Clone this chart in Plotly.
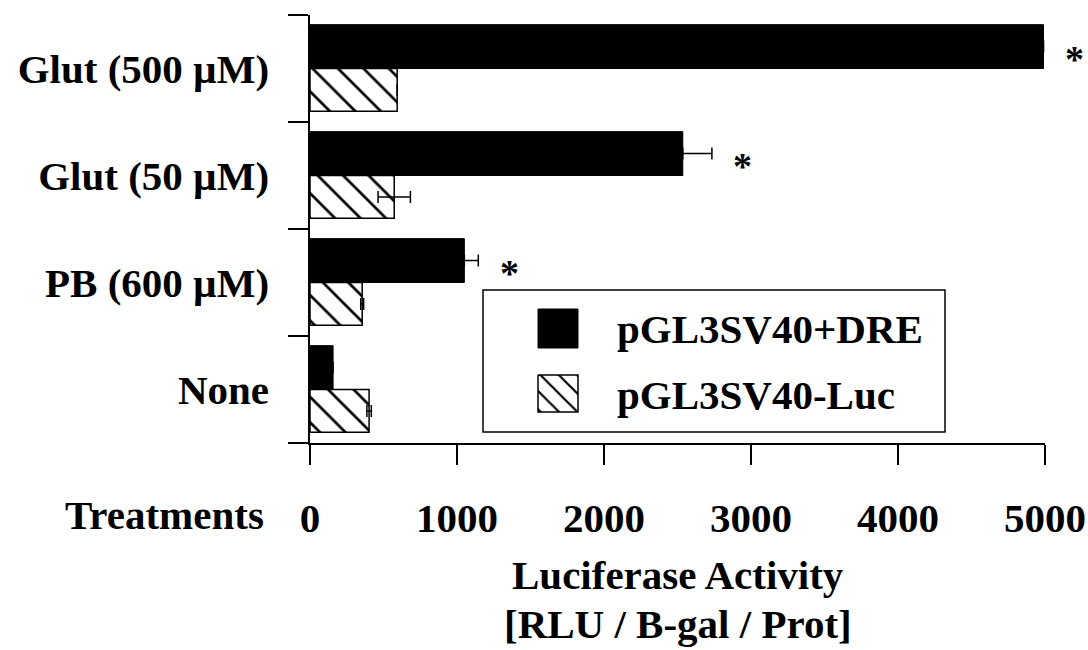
import plotly.graph_objects as go

# ---------------- data ----------------
treatments = ["None", "PB (600 µM)", "Glut (50 µM)", "Glut (500 µM)"]
dre_values = [157, 1050, 2536, 4990]
dre_err = [0, 95, 198, 0]
luc_values = [402, 355, 573, 593]
luc_err = [15, 10, 110, 0]
significant = [False, True, True, True]
x_ticks = [0, 1000, 2000, 3000, 4000, 5000]
series_names = ["pGL3SV40+DRE", "pGL3SV40-Luc"]
x_title_lines = ["Luciferase Activity", "[RLU / B-gal / Prot]"]
y_title = "Treatments"

# ---------------- layout helpers ----------------
W, H = 1088, 650
FONT = "Liberation Serif"
def px_x(p):
    return p / W
def px_y(p):
    return 1 - p / H

X0, X1 = 310, 1045   # plot area (pixels)
Y0, Y1 = 15, 443
fsize = 41

fig = go.Figure()

fig.add_trace(go.Bar(
    y=treatments, x=luc_values, orientation="h", name=series_names[1],
    width=0.4, offset=-0.4, showlegend=False,
    marker=dict(color="white", line=dict(color="black", width=1.5),
                pattern=dict(shape="\\", size=18, solidity=0.15,
                             fgcolor="black", bgcolor="white")),
    error_x=dict(type="data", array=luc_err, symmetric=True,
                 color="black", thickness=1.5, width=6),
))
fig.add_trace(go.Bar(
    y=treatments, x=dre_values, orientation="h", name=series_names[0],
    width=0.41, offset=0.0, showlegend=False,
    marker=dict(color="black", line=dict(color="black", width=1)),
    error_x=dict(type="data", array=dre_err, arrayminus=[0] * len(dre_err),
                 symmetric=False, color="black", thickness=1.5, width=6),
))

# hatched legend swatch on an overlay pixel axis
sx = [538, 578, 578, 538, 538]
sy = [375, 375, 412, 412, 375]
fig.add_trace(go.Scatter(
    x=sx, y=sy, xaxis="x2", yaxis="y2", mode="lines", fill="toself",
    fillcolor="white", showlegend=False, hoverinfo="skip",
    line=dict(color="black", width=1.5),
    fillpattern=dict(shape="\\", size=13, solidity=0.17,
                     fgcolor="black", bgcolor="white"),
))

tfont = dict(family=FONT, size=fsize, color="black", weight="bold")

fig.update_layout(
    template="none",
    width=W, height=H,
    margin=dict(l=0, r=0, t=0, b=0, autoexpand=False),
    paper_bgcolor="white", plot_bgcolor="rgba(0,0,0,0)",
    barmode="overlay",
    showlegend=False,
    xaxis=dict(
        domain=[px_x(X0), px_x(X1)], range=[0, 5000], automargin=False,
        tickmode="array", tickvals=x_ticks,
        ticks="outside", ticklen=20, tickwidth=1.5, tickcolor="black",
        showline=True, linewidth=1.5, linecolor="black",
        showgrid=False, zeroline=False, tickfont=tfont,
        ticklabelstandoff=18, fixedrange=True,
    ),
    yaxis=dict(
        domain=[px_y(Y1), px_y(Y0)], type="category", automargin=False,
        categoryorder="array", categoryarray=treatments,
        range=[-0.5, len(treatments) - 0.5],
        tickson="boundaries",
        ticks="outside", ticklen=20, tickwidth=1.5, tickcolor="black",
        showline=True, linewidth=1.5, linecolor="black",
        showgrid=False, zeroline=False, tickfont=tfont,
        ticklabelstandoff=31, fixedrange=True,
    ),
    xaxis2=dict(domain=[0, 1], range=[0, W], visible=False, anchor="y2",
                fixedrange=True, automargin=False),
    yaxis2=dict(domain=[0, 1], range=[H, 0], visible=False, anchor="x2",
                fixedrange=True, automargin=False),
)

annotations = []
# y-axis title
annotations.append(dict(x=px_x(266), y=px_y(515), xref="paper", yref="paper",
                        text=y_title, showarrow=False, xanchor="right",
                        yanchor="middle", font=tfont))
# x-axis title lines
for line, yy in zip(x_title_lines, [575, 624]):
    annotations.append(dict(x=px_x((X0 + X1) / 2), y=px_y(yy), xref="paper",
                            yref="paper", text=line, showarrow=False,
                            xanchor="center", yanchor="middle", font=tfont))
# significance asterisks
for i, sig in enumerate(significant):
    if sig:
        annotations.append(dict(x=dre_values[i] + dre_err[i], y=treatments[i],
                                xref="x", yref="y", text="*", showarrow=False,
                                xanchor="center", yanchor="middle",
                                xshift=31, yshift=10,
                                font=dict(family=FONT, size=38, color="black",
                                          weight="bold")))
# legend texts
for name, yy in zip(series_names, [329, 395]):
    annotations.append(dict(x=px_x(615), y=px_y(yy), xref="paper", yref="paper",
                            text=name, showarrow=False, xanchor="left",
                            yanchor="middle", font=tfont))
fig.update_layout(annotations=annotations)

# legend box and black swatch
fig.add_shape(type="rect", xref="paper", yref="paper",
              x0=px_x(483), x1=px_x(945), y0=px_y(432), y1=px_y(290),
              line=dict(color="black", width=1.5), fillcolor="rgba(0,0,0,0)")
fig.add_shape(type="rect", xref="paper", yref="paper",
              x0=px_x(538), x1=px_x(578), y0=px_y(348), y1=px_y(309),
              line=dict(color="black", width=1), fillcolor="black")

fig.write_html("out.html", post_script="document.body.style.margin='0';",
               config={"displayModeBar": False})
